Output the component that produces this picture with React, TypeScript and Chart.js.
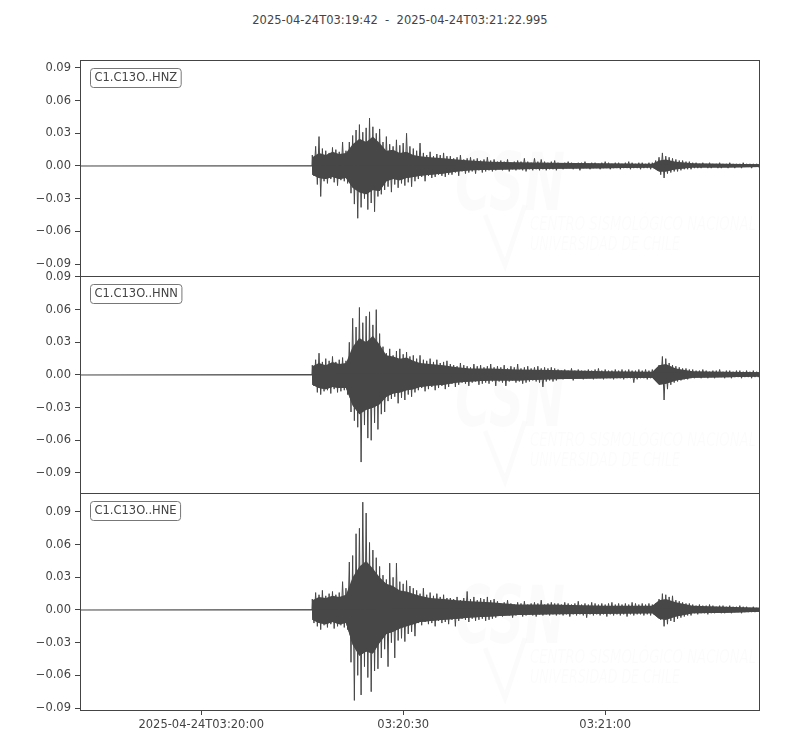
import { useEffect, useRef } from "react";
import { Chart, registerables, type Plugin } from "chart.js";

Chart.register(...registerables);

const TITLE = "2025-04-24T03:19:42  -  2025-04-24T03:21:22.995";
// seconds after 03:19:42
const SPAN = 100.995;
const ONSET = 34.5;
const BIN = 0.5;

const xTicks = [18, 48, 78];
const xTickLabels = ["2025-04-24T03:20:00", "03:20:30", "03:21:00"];
const yTicks = [-0.09, -0.06, -0.03, 0, 0.03, 0.06, 0.09];
const yTickLabels = ["\u22120.09", "\u22120.06", "\u22120.03", "0.00", "0.03", "0.06", "0.09"];

const channels = ["C1.C13O..HNZ", "C1.C13O..HNN", "C1.C13O..HNE"];

// per 0.5 s bin from the onset: peak upper / lower swing, in units of 0.001
const hnzMax = [
  10, 18, 27, 16, 14, 12, 17, 15, 13, 22, 14,
  22, 28, 33, 38, 31, 35, 44, 36, 30, 34,
  22, 27, 20, 18, 24, 19, 21, 30, 18, 16,
  14, 21, 12, 10, 13, 9, 11, 10, 12, 9,
  9, 7, 8, 10, 6, 7, 8, 6, 7, 5, 6, 8, 5, 6,
  4, 5, 4, 6, 3, 4, 5, 4, 7, 4, 3, 7, 4, 6, 4, 3, 4, 5,
  3, 2, 3, 4, 3, 2, 3, 3, 4, 2, 3, 3, 2, 3, 4, 3, 2, 3, 3, 2, 3, 4, 3, 2, 3, 3, 2, 3, 3,
  5, 8, 12, 9, 8, 7, 6, 5, 5, 4, 4,
  3, 3, 2, 3, 2, 3, 2, 2, 3, 2, 2, 3, 2, 2, 2, 3, 2, 2, 2, 2,
];
const hnzMin = [
  -9, -17, -28, -14, -16, -12, -15, -18, -13, -14, -16,
  -25, -35, -48, -38, -30, -40, -34, -42, -28, -26,
  -22, -19, -24, -17, -20, -16, -18, -15, -19, -14,
  -12, -10, -14, -9, -11, -10, -8, -9, -10, -8,
  -8, -6, -9, -5, -7, -6, -5, -7, -4, -6, -5, -4, -5, -4,
  -3, -4, -3, -5, -3, -4, -3, -4, -5, -3, -4, -3, -4, -3, -4, -3, -3, -4,
  -2, -3, -2, -2, -3, -2, -4, -2, -2, -3, -2, -2, -3, -2, -2, -3, -2, -2, -3, -2, -2, -3, -2, -2, -3, -2, -2, -3, -2,
  -4, -8, -11, -7, -6, -5, -5, -4, -3, -3, -3,
  -2, -2, -2, -1, -2, -2, -1, -2, -2, -1, -2, -1, -2, -1, -2, -1, -1, -2, -1, -1,
];

const hnnMax = [
  9, 14, 20, 12, 15, 13, 17, 12, 14, 16, 13,
  30, 52, 44, 62, 48, 54, 58, 46, 60, 38,
  26, 20, 24, 18, 22, 24, 19, 21, 17, 18,
  15, 18, 14, 13, 15, 12, 14, 11, 12, 13,
  10, 9, 8, 11, 9, 8, 7, 10, 8, 9, 7, 8, 10, 7,
  8, 7, 9, 6, 8, 7, 10, 6, 7, 8, 6, 7, 8, 6, 7, 6, 7, 6,
  5, 4, 5, 4, 6, 4, 5, 4, 4, 5, 4, 5, 6, 4, 5, 4, 4, 5, 4, 5, 4, 5, 4, 4, 5, 4, 5, 4, 5,
  5, 9, 17, 15, 11, 9, 8, 7, 6, 6, 5,
  5, 4, 4, 5, 4, 3, 4, 4, 5, 3, 4, 4, 3, 4, 4, 3, 4, 3, 4, 3,
];
const hnnMin = [
  -10, -16, -18, -15, -14, -17, -13, -16, -15, -14, -18,
  -34, -42, -48, -80, -46, -58, -60, -44, -50, -36,
  -34, -24, -22, -20, -26, -21, -23, -18, -20, -16,
  -14, -12, -15, -13, -11, -14, -12, -10, -13, -11,
  -8, -11, -9, -7, -8, -10, -7, -6, -9, -8, -7, -8, -6, -10,
  -6, -7, -10, -6, -5, -7, -6, -8, -7, -6, -5, -6, -7, -11, -6, -5, -6, -5,
  -3, -4, -3, -3, -5, -3, -3, -4, -3, -3, -4, -3, -3, -4, -3, -3, -4, -3, -3, -4, -3, -3, -7, -4, -3, -3, -4, -3, -3,
  -3, -8, -23, -13, -9, -7, -6, -5, -4, -4, -3,
  -3, -2, -3, -2, -3, -2, -3, -2, -2, -3, -2, -3, -2, -2, -3, -2, -2, -3, -2, -2,
];

const hneMax = [
  10, 16, 14, 18, 13, 15, 17, 14, 16, 26, 20,
  44, 50, 70, 75, 99, 89, 62, 55, 48, 40,
  32, 28, 43, 30, 43, 26, 24, 27, 22, 20,
  18, 15, 20, 14, 16, 13, 15, 12, 14, 11,
  11, 10, 12, 9, 11, 17, 10, 12, 9, 11, 10, 12, 9, 10,
  8, 6, 7, 9, 6, 5, 7, 6, 8, 5, 6, 7, 6, 9, 5, 6, 7, 6,
  6, 5, 7, 6, 5, 6, 8, 5, 6, 5, 7, 6, 5, 6, 5, 6, 7, 5, 6, 5, 6, 5, 7, 6, 5, 6, 5, 6, 5,
  6, 10, 15, 14, 12, 13, 9, 8, 7, 6, 6,
  5, 4, 5, 4, 4, 5, 4, 3, 4, 4, 3, 4, 3, 3, 4, 3, 3, 2, 3, 2,
];
const hneMin = [
  -12, -15, -18, -14, -16, -13, -17, -15, -14, -16, -18,
  -48, -83, -60, -78, -52, -62, -75, -56, -54, -44,
  -36, -52, -30, -44, -28, -26, -29, -22, -20, -24,
  -12, -14, -11, -13, -12, -15, -10, -12, -11, -13,
  -9, -15, -10, -8, -9, -11, -8, -10, -9, -8, -10, -9, -8, -7,
  -5, -6, -4, -5, -7, -5, -4, -6, -5, -4, -5, -6, -4, -5, -4, -5, -4, -5,
  -4, -5, -4, -6, -4, -5, -4, -5, -7, -4, -5, -4, -5, -4, -6, -4, -5, -4, -5, -4, -6, -4, -5, -4, -4, -5, -4, -5, -4,
  -5, -9, -15, -13, -10, -11, -8, -7, -6, -5, -5,
  -3, -4, -3, -3, -4, -3, -3, -2, -3, -3, -2, -3, -2, -2, -3, -2, -2, -2, -2, -1,
];

// dense core of each trace (where the wiggles fill solid), units of 0.001
const coreTimes = [
  34.5, 35.5, 36.5, 37.5, 38.5, 39.5, 40.5, 41.5, 42.5, 43.5, 44.5, 45.5, 46.5, 47.5, 48.5, 49.5,
  50.5, 52, 54, 56, 58, 61, 65, 70, 78, 85, 86, 87, 88.5, 91, 96, 101,
];
const hnzCoreUp = [8, 12, 10, 13, 11, 12, 20, 25, 22, 27, 21, 14, 15, 12, 13, 10, 9, 8, 7, 6, 5, 4, 3.5, 3, 2.5, 2, 5, 6, 4, 2.5, 2, 1.5];
const hnzCoreDn = [-8, -11, -12, -10, -12, -11, -20, -24, -26, -22, -23, -14, -12, -13, -11, -10, -9, -8, -7, -5, -4, -3.5, -3, -2.5, -2, -1.5, -5, -5, -3, -1.5, -1.5, -1];
const hnnCoreUp = [8, 11, 9, 12, 10, 11, 26, 34, 30, 36, 28, 18, 17, 15, 16, 13, 11, 10, 9, 7, 6, 6, 5, 4.5, 3.5, 3, 9, 10, 6, 3.5, 3, 2.5];
const hnnCoreDn = [-9, -12, -13, -11, -12, -12, -28, -36, -32, -30, -27, -20, -17, -16, -14, -13, -11, -10, -9, -7, -6, -5, -5, -4, -3, -2.5, -9, -8, -5, -2.5, -2, -1.5];
const hneCoreUp = [9, 12, 11, 13, 12, 14, 30, 40, 45, 38, 30, 24, 22, 18, 17, 15, 13, 11, 10, 9, 8, 7, 5, 5, 4, 4, 9, 10, 7, 4, 3, 2];
const hneCoreDn = [-9, -12, -13, -11, -13, -12, -32, -42, -38, -40, -30, -22, -20, -17, -15, -13, -11, -10, -9, -8, -7, -6, -4.5, -4, -3.5, -3, -8, -9, -6, -3, -2.5, -1.5];

// axis limits of each panel
const yLimits = [
  [-0.101, 0.0973],
  [-0.1084, 0.0909],
  [-0.0918, 0.1074],
];

const INK = "#444444";
const TRACE = "#474747";
const FONT = "'DejaVu Sans', sans-serif";

function corePoints(vals: number[]) {
  const pts: { x: number; y: number }[] = [
    { x: 0, y: 0 },
    { x: ONSET - 0.05, y: 0 },
  ];
  vals.forEach((v, i) => pts.push({ x: coreTimes[i], y: v / 1000 }));
  pts.push({ x: SPAN, y: 0 });
  return pts;
}

function zigzag(hi: number[], lo: number[]) {
  const pts: { x: number; y: number }[] = [
    { x: 0, y: 0 },
    { x: ONSET - 0.05, y: 0 },
  ];
  hi.forEach((h, i) => {
    pts.push({ x: ONSET + i * BIN, y: h / 1000 });
    pts.push({ x: ONSET + i * BIN + BIN / 2, y: lo[i] / 1000 });
  });
  pts.push({ x: SPAN, y: 0 });
  return pts;
}

function panelPlugin(label: string): Plugin<"line"> {
  return {
    id: "panelDecor",
    beforeDatasetsDraw(chart) {
      const { ctx, chartArea: a } = chart;
      ctx.save();
      ctx.fillStyle = "rgba(0,0,0,0.014)";
      ctx.textBaseline = "alphabetic";
      ctx.font = `italic bold 80px ${FONT}`;
      ctx.fillText("CSN", a.left + 375, a.top + 150, 110);
      ctx.font = `italic 20px ${FONT}`;
      ctx.fillText("CENTRO SISMOLÓGICO NACIONAL", a.left + 450, a.top + 170, 226);
      ctx.fillText("UNIVERSIDAD DE CHILE", a.left + 450, a.top + 190, 150);
      ctx.strokeStyle = "rgba(0,0,0,0.014)";
      ctx.lineWidth = 5;
      ctx.beginPath();
      ctx.moveTo(a.left + 405, a.top + 155);
      ctx.lineTo(a.left + 425, a.top + 205);
      ctx.lineTo(a.left + 445, a.top + 145);
      ctx.stroke();
      ctx.restore();
    },
    afterDraw(chart) {
      const { ctx, chartArea: a } = chart;
      ctx.save();
      ctx.strokeStyle = INK;
      ctx.lineWidth = 1;
      ctx.strokeRect(
        Math.round(a.left) + 0.5,
        Math.round(a.top) + 0.5,
        Math.round(a.right - a.left) - 1,
        Math.round(a.bottom - a.top),
      );
      ctx.font = `11.5px ${FONT}`;
      const w = ctx.measureText(label).width + 8;
      const bx = a.left + 10.5;
      const by = a.top + 8.5;
      ctx.beginPath();
      ctx.roundRect(bx, by, w, 19, 3);
      ctx.fillStyle = "#ffffff";
      ctx.fill();
      ctx.strokeStyle = "#777777";
      ctx.stroke();
      ctx.fillStyle = INK;
      ctx.textBaseline = "middle";
      ctx.fillText(label, bx + 4, by + 10);
      ctx.restore();
    },
  };
}

type PanelProps = {
  label: string;
  hi: number[];
  lo: number[];
  coreUp: number[];
  coreDn: number[];
  limits: number[];
  showX: boolean;
  top: number;
  height: number;
};

function TracePanel({ label, hi, lo, coreUp, coreDn, limits, showX, top, height }: PanelProps) {
  const canvasRef = useRef<HTMLCanvasElement | null>(null);

  useEffect(() => {
    const canvas = canvasRef.current;
    if (!canvas) return;
    const chart = new Chart(canvas, {
      type: "line",
      data: {
        datasets: [
          {
            data: corePoints(coreUp),
            borderWidth: 0,
            backgroundColor: TRACE,
            pointRadius: 0,
            tension: 0,
            fill: "+1",
          },
          {
            data: corePoints(coreDn),
            borderWidth: 0,
            pointRadius: 0,
            tension: 0,
            fill: false,
          },
          {
            data: zigzag(hi, lo),
            borderColor: TRACE,
            borderWidth: 1,
            pointRadius: 0,
            tension: 0,
            fill: false,
          },
        ],
      },
      options: {
        responsive: false,
        animation: false,
        events: [],
        layout: { padding: { top: 12, bottom: showX ? 0 : 12, left: 0, right: 40 } },
        plugins: { legend: { display: false }, tooltip: { enabled: false } },
        scales: {
          x: {
            type: "linear",
            display: showX,
            min: 0,
            max: SPAN,
            afterBuildTicks: (scale) => {
              scale.ticks = xTicks.map((v) => ({ value: v }));
            },
            afterFit: (scale) => {
              scale.height = showX ? 40 : 0;
            },
            ticks: {
              autoSkip: false,
              maxRotation: 0,
              padding: 3,
              color: INK,
              font: { family: FONT, size: 11.5 },
              callback: (_v, i) => xTickLabels[i],
            },
            grid: { drawOnChartArea: false, tickLength: 5, color: INK },
            border: { display: false },
          },
          y: {
            type: "linear",
            min: limits[0],
            max: limits[1],
            afterBuildTicks: (scale) => {
              scale.ticks = yTicks.map((v) => ({ value: v }));
            },
            afterFit: (scale) => {
              scale.width = 80;
            },
            ticks: {
              autoSkip: false,
              padding: 4,
              color: INK,
              font: { family: FONT, size: 11.5 },
              callback: (_v, i) => yTickLabels[i],
            },
            grid: { drawOnChartArea: false, tickLength: 5, color: INK },
            border: { display: false },
          },
        },
      },
      plugins: [panelPlugin(label)],
    });
    return () => chart.destroy();
  }, [label, hi, lo, coreUp, coreDn, limits, showX]);

  return (
    <canvas
      ref={canvasRef}
      width={800}
      height={height}
      style={{ position: "absolute", left: 0, top, width: 800, height }}
    />
  );
}

export default function App() {
  return (
    <div
      style={{
        position: "absolute",
        left: 0,
        top: 0,
        width: 800,
        height: 750,
        background: "#ffffff",
        overflow: "hidden",
      }}
    >
      <div
        style={{
          position: "absolute",
          top: 13,
          left: 0,
          width: 800,
          textAlign: "center",
          fontFamily: FONT,
          fontSize: 11.5,
          color: INK,
          whiteSpace: "pre",
        }}
      >
        {TITLE}
      </div>
      <TracePanel label={channels[0]} hi={hnzMax} lo={hnzMin} coreUp={hnzCoreUp} coreDn={hnzCoreDn} limits={yLimits[0]} showX={false} top={48} height={240} />
      <TracePanel label={channels[1]} hi={hnnMax} lo={hnnMin} coreUp={hnnCoreUp} coreDn={hnnCoreDn} limits={yLimits[1]} showX={false} top={264} height={241} />
      <TracePanel label={channels[2]} hi={hneMax} lo={hneMin} coreUp={hneCoreUp} coreDn={hneCoreDn} limits={yLimits[2]} showX={true} top={481} height={269} />
    </div>
  );
}
